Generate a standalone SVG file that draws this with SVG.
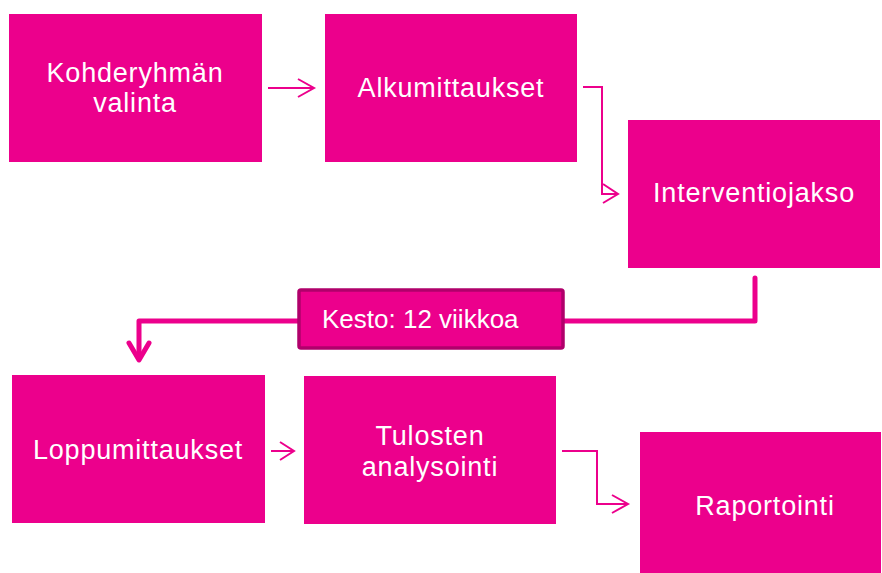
<svg xmlns="http://www.w3.org/2000/svg" width="882" height="573" viewBox="0 0 882 573">
<style>
.box{fill:#ec008c}
.t{font-family:"Liberation Sans",Arial,sans-serif;font-size:27px;fill:#fff;text-anchor:middle;letter-spacing:0.8px}
.c{fill:none;stroke:#ec008c;stroke-width:2}
.thick{fill:none;stroke:#ec008c;stroke-width:5;stroke-linejoin:round;stroke-linecap:round}
</style>
<rect width="882" height="573" fill="#fff"/>
<g id="connectors">
<path class="c" d="M268 88H314M298 79L314 88L298 97"/>
<path class="c" d="M583 87H602V194H618M603 184L618 194L603 203"/>
<path class="thick" d="M755 278V321H139V358"/>
<path class="thick" d="M129 343L139 360L149 343" stroke-linejoin="miter"/>
<path class="c" d="M271 451H294M280 442L294 451L280 460"/>
<path class="c" d="M562 451H597V504H628M612 495L628 504L612 513"/>
</g>
<g id="n1"><rect class="box" x="9" y="14" width="253" height="148"/><text class="t" x="135" y="82">Kohderyhmän</text><text class="t" x="135" y="112">valinta</text></g>
<g id="n2"><rect class="box" x="325" y="14" width="252" height="148"/><text class="t" x="451" y="97">Alkumittaukset</text></g>
<g id="n3"><rect class="box" x="628" y="120" width="252" height="148"/><text class="t" x="754" y="202">Interventiojakso</text></g>
<g id="n4"><rect x="299" y="290" width="264" height="58" rx="2" fill="#ec008c" stroke="#b0006b" stroke-width="3.5"/><text class="t" x="322" y="328" style="text-anchor:start;letter-spacing:0;font-size:26px">Kesto: 12 viikkoa</text></g>
<g id="n5"><rect class="box" x="12" y="375" width="253" height="148"/><text class="t" x="138" y="459">Loppumittaukset</text></g>
<g id="n6"><rect class="box" x="304" y="376" width="252" height="148"/><text class="t" x="430" y="445">Tulosten</text><text class="t" x="430" y="476">analysointi</text></g>
<g id="n7"><rect class="box" x="640" y="432" width="241" height="141"/><text class="t" x="765" y="515">Raportointi</text></g>
</svg>
